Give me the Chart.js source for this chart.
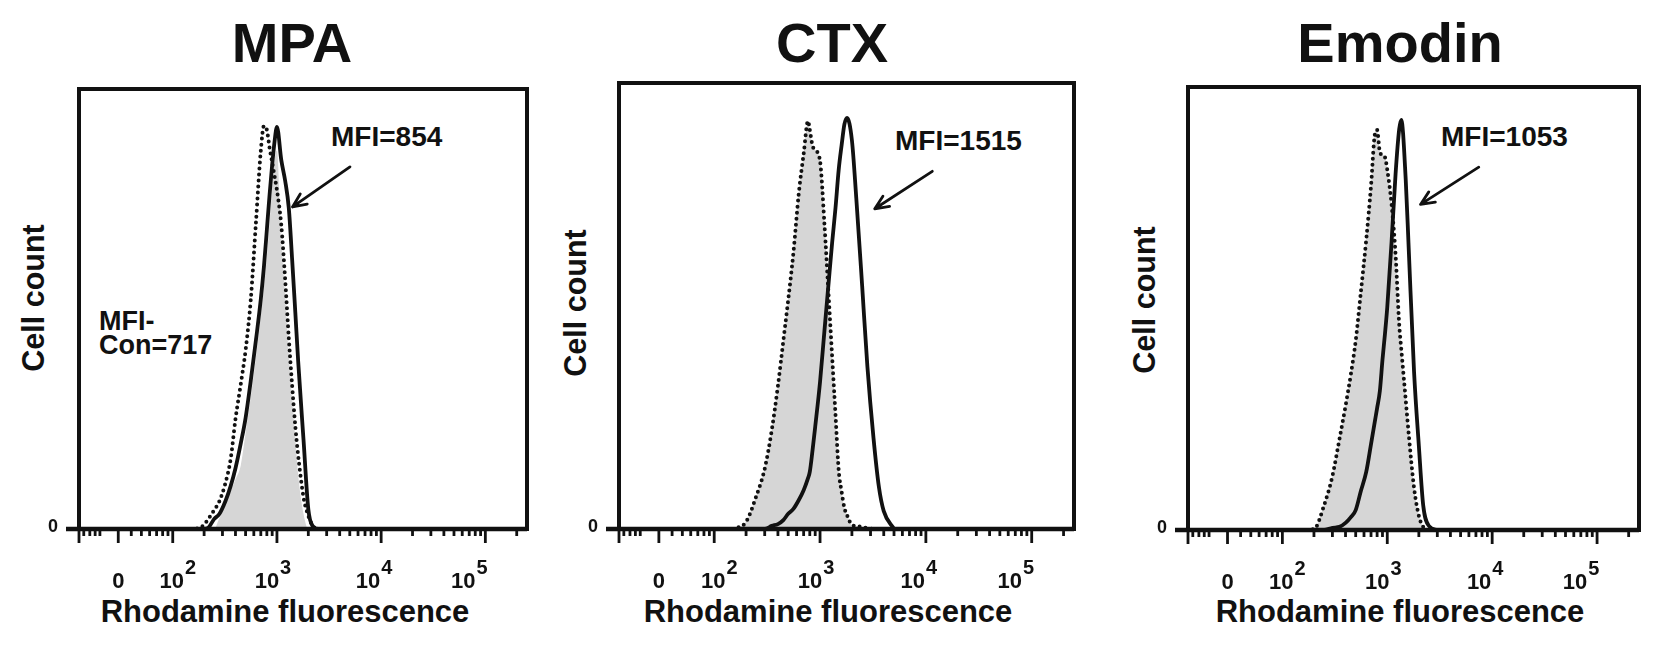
<!DOCTYPE html>
<html>
<head>
<meta charset="utf-8">
<script src="https://cdn.jsdelivr.net/npm/chart.js@4.4.1/dist/chart.umd.min.js"></script>
<style>
  html, body { margin: 0; padding: 0; background: #fff; }
  body { width: 1658px; height: 645px; position: relative; overflow: hidden;
         font-family: "Liberation Sans", Arial, sans-serif; font-weight: bold; color: #111; }
  canvas { position: absolute; }
  .txt { position: absolute; white-space: nowrap; line-height: 1; }
  .title { font-size: 56px; top: 15px; transform: translateX(-50%); }
  .ytitle { font-size: 30.5px; transform: translate(-50%, -50%) rotate(-90deg); }
  .xtitle { font-size: 31px; top: 596px; transform: translateX(-50%); }
  .mfi { font-size: 28px; }
</style>
</head>
<body>

<div class="txt title" style="left:292px">MPA</div>
<div class="txt title" style="left:832px">CTX</div>
<div class="txt title" style="left:1400px">Emodin</div>

<div class="txt ytitle" style="left:33px; top:298px">Cell count</div>
<div class="txt ytitle" style="left:575px; top:303px">Cell count</div>
<div class="txt ytitle" style="left:1144px; top:300px">Cell count</div>

<div class="txt xtitle" style="left:285px">Rhodamine fluorescence</div>
<div class="txt xtitle" style="left:828px">Rhodamine fluorescence</div>
<div class="txt xtitle" style="left:1400px">Rhodamine fluorescence</div>

<div class="txt mfi" style="left:331px; top:123px">MFI=854</div>
<div class="txt mfi" style="left:99px; top:309px; font-size:27px; line-height:24px">MFI-<br>Con=717</div>
<div class="txt mfi" style="left:895px; top:127px">MFI=1515</div>
<div class="txt mfi" style="left:1441px; top:123px">MFI=1053</div>

<script>
// fluorescence intensity (x) and cell count as % of the panel height (y)
const mpaX = [150, 180, 200, 220, 250, 280, 320, 360, 400, 450, 500, 560, 630, 700, 750, 800,
  850, 900, 950, 1000, 1100, 1200, 1300, 1400, 1500, 1600, 1800, 2000, 2200, 2500, 3000];
const mpaControl = [0, 0.2, 1, 2.3, 4.3, 6.3, 10.4, 16, 25, 33, 40.6, 52, 70, 86, 91.6, 90.7,
  86.6, 83.3, 80.1, 77, 69.1, 56.6, 43.3, 32.5, 23.4, 16.6, 7.2, 3, 0.8, 0, 0];
const mpaTreated = [0, 0, 0, 0.3, 2.3, 3.4, 6.3, 9.8, 13.8, 19.5, 25.2, 33.6, 43.1, 52.2, 59.6, 68,
  76, 82.8, 88.2, 91.4, 83.9, 79.1, 72.9, 61.1, 49.3, 38, 20.2, 4.5, 0.7, 0, 0];
const mpaShade = [0, 0, 0, 0, 0, 2.5, 5.4, 8.6, 11.3, 14.5, 21.8, 30, 39.2, 48.5, 54.9, 61.9,
  69.8, 77.8, 84, 86, 66, 53, 39.5, 29.5, 20.5, 12.2, 3.4, 0, 0, 0, 0];

const ctxX = [150, 200, 250, 300, 350, 400, 450, 500, 560, 630, 700, 770, 800, 850, 900, 1000,
  1100, 1200, 1300, 1400, 1500, 1600, 1700, 1800, 2000, 2200, 2500, 2800, 3200, 3600, 4000, 5000];
const ctxControl = [0, 1.6, 7.4, 13.5, 22.2, 32.1, 42.2, 51.3, 61.9, 75.3, 84.1, 91.5, 89.5, 85.9, 85, 82.5,
  68.4, 53.1, 38.8, 25.6, 13.2, 8.3, 4.7, 3.1, 0.9, 0.7, 0.4, 0.2, 0, 0, 0, 0];
const ctxTreated = [0, 0, 0, 0, 0.7, 1.1, 2, 3.4, 4.5, 6.5, 8.7, 11.4, 12.8, 17.7, 22.9, 33,
  44.4, 54.7, 64.1, 72, 80.5, 86.1, 90.8, 92.2, 87.2, 74.2, 54.5, 36.5, 20.4, 9.4, 4, 0];

const emoX = [150, 200, 250, 300, 350, 400, 450, 500, 560, 630, 700, 760, 800, 850, 900, 950,
  1000, 1100, 1200, 1300, 1360, 1500, 1600, 1800, 2000, 2200, 2500, 3000];
const emoControl = [0, 0.2, 5.6, 12.2, 20.5, 28, 35.2, 42.7, 53.7, 65.5, 77.7, 89.2, 90.3, 85.3, 84.7, 84.2,
  81.3, 73.4, 62.1, 46.3, 40.8, 29.3, 21.7, 9.5, 3.2, 0.7, 0, 0];
const emoTreated = [0, 0, 0, 0.5, 0.7, 1.6, 2.9, 4.5, 8.8, 13.1, 19.4, 24.4, 27.5, 31.4, 38.4, 44.2,
  50.3, 65.2, 80.4, 90.5, 92.6, 79, 63.7, 35.7, 19, 5.6, 0.9, 0];

// arrows: [tail, tip] as [intensity, %]
const mpaArrow = [[5020, 82.3], [1410, 73.2]];
const ctxArrow = [[11500, 80.2], [3290, 71.8]];
const emoArrow = [[7450, 81.9], [2075, 73.5]];

// axis
const xMin = 12.6, xMax = 251000;
const zeroAt = 30;
const decadeTicks = [100, 1000, 10000, 100000];
const minorTicks = [14, 16, 18, 20, 40, 50, 60, 70, 80, 90,
  200, 300, 400, 500, 600, 700, 800, 900,
  2000, 3000, 4000, 5000, 6000, 7000, 8000, 9000,
  20000, 30000, 40000, 50000, 60000, 70000, 80000, 90000, 200000];
const labelShift = [5, -4, -7, -16];

const panels = [
  { box: [79, 89, 527, 529], x: mpaX, control: mpaControl, treated: mpaTreated, shade: mpaShade, arrow: mpaArrow },
  { box: [619, 83, 1074, 529], x: ctxX, control: ctxControl, treated: ctxTreated, shade: ctxControl, arrow: ctxArrow },
  { box: [1188, 87, 1639, 530], x: emoX, control: emoControl, treated: emoTreated, shade: emoControl, arrow: emoArrow },
];

const pad = { left: 45, top: 10, right: 15, bottom: 75 };
const INK = "#111";
const FONT = '"Liberation Sans", Arial, sans-serif';

const facsAxes = {
  id: "facsAxes",
  afterDraw(chart, args, opts) {
    const { ctx, chartArea: a, scales: { x, y } } = chart;
    ctx.save();
    ctx.strokeStyle = INK;
    ctx.fillStyle = INK;

    // frame
    ctx.lineWidth = 4;
    ctx.strokeRect(a.left, a.top, a.right - a.left, a.bottom - a.top);

    // x axis line, running a bit left as the y "0" tick
    ctx.lineWidth = 4.5;
    ctx.beginPath();
    ctx.moveTo(a.left - 13, a.bottom);
    ctx.lineTo(a.right, a.bottom);
    ctx.stroke();

    const tick = (px, len) => {
      ctx.beginPath();
      ctx.moveTo(px, a.bottom);
      ctx.lineTo(px, a.bottom + len);
      ctx.stroke();
    };
    ctx.lineWidth = 2.8;
    tick(a.left, 14);
    tick(x.getPixelForValue(zeroAt), 14);
    decadeTicks.forEach(v => tick(x.getPixelForValue(v), 14));
    minorTicks.forEach(v => tick(x.getPixelForValue(v), 7));

    // tick labels
    const base = a.bottom + 59;
    ctx.textBaseline = "alphabetic";
    ctx.textAlign = "center";
    ctx.font = "bold 22px " + FONT;
    ctx.fillText("0", x.getPixelForValue(zeroAt), base);
    decadeTicks.forEach((v, i) => {
      const exp = String(Math.round(Math.log10(v)));
      ctx.font = "bold 22px " + FONT;
      const w10 = ctx.measureText("10").width;
      ctx.font = "bold 20px " + FONT;
      const wExp = ctx.measureText(exp).width;
      const left = x.getPixelForValue(v) + labelShift[i] - (w10 + wExp + 1) / 2;
      ctx.textAlign = "left";
      ctx.font = "bold 22px " + FONT;
      ctx.fillText("10", left, base);
      ctx.font = "bold 20px " + FONT;
      ctx.fillText(exp, left + w10 + 1, base - 14);
    });

    // y "0"
    ctx.textAlign = "center";
    ctx.font = "bold 18px " + FONT;
    ctx.fillText("0", a.left - 26, a.bottom + 3);

    // arrow to the treated peak
    const [tail, tip] = opts.arrow;
    const x0 = x.getPixelForValue(tail[0]), y0 = y.getPixelForValue(tail[1]);
    const x1 = x.getPixelForValue(tip[0]), y1 = y.getPixelForValue(tip[1]);
    ctx.lineWidth = 2.8;
    ctx.lineCap = "round";
    ctx.beginPath();
    ctx.moveTo(x0, y0);
    ctx.lineTo(x1, y1);
    const ang = Math.atan2(y0 - y1, x0 - x1);
    [0.42, -0.42].forEach(d => {
      ctx.moveTo(x1, y1);
      ctx.lineTo(x1 + 15 * Math.cos(ang + d), y1 + 15 * Math.sin(ang + d));
    });
    ctx.stroke();
    ctx.restore();
  }
};

const pts = (xs, ys) => xs.map((v, i) => ({ x: v, y: ys[i] }));

panels.forEach(p => {
  const [l, t, r, b] = p.box;
  const canvas = document.createElement("canvas");
  canvas.width = r - l + pad.left + pad.right;
  canvas.height = b - t + pad.top + pad.bottom;
  canvas.style.left = (l - pad.left) + "px";
  canvas.style.top = (t - pad.top) + "px";
  document.body.appendChild(canvas);

  new Chart(canvas, {
    type: "line",
    data: {
      datasets: [
        { data: pts(p.x, p.treated), borderColor: INK, borderWidth: 3.8, pointRadius: 0,
          fill: false, cubicInterpolationMode: "monotone" },
        { data: pts(p.x, p.control), borderColor: INK, borderWidth: 4, borderDash: [0, 6],
          borderCapStyle: "round", pointRadius: 0, fill: false, cubicInterpolationMode: "monotone" },
        { data: pts(p.x, p.shade), borderWidth: 0, borderColor: "rgba(0,0,0,0)", backgroundColor: "#d6d6d6",
          pointRadius: 0, fill: "origin", cubicInterpolationMode: "monotone" }
      ]
    },
    options: {
      responsive: false,
      animation: false,
      events: [],
      layout: { padding: pad },
      plugins: {
        legend: { display: false },
        tooltip: { enabled: false },
        facsAxes: { arrow: p.arrow }
      },
      scales: {
        x: { type: "logarithmic", min: xMin, max: xMax, display: false },
        y: { type: "linear", min: 0, max: 100, display: false }
      }
    },
    plugins: [facsAxes]
  });
});
</script>
</body>
</html>
